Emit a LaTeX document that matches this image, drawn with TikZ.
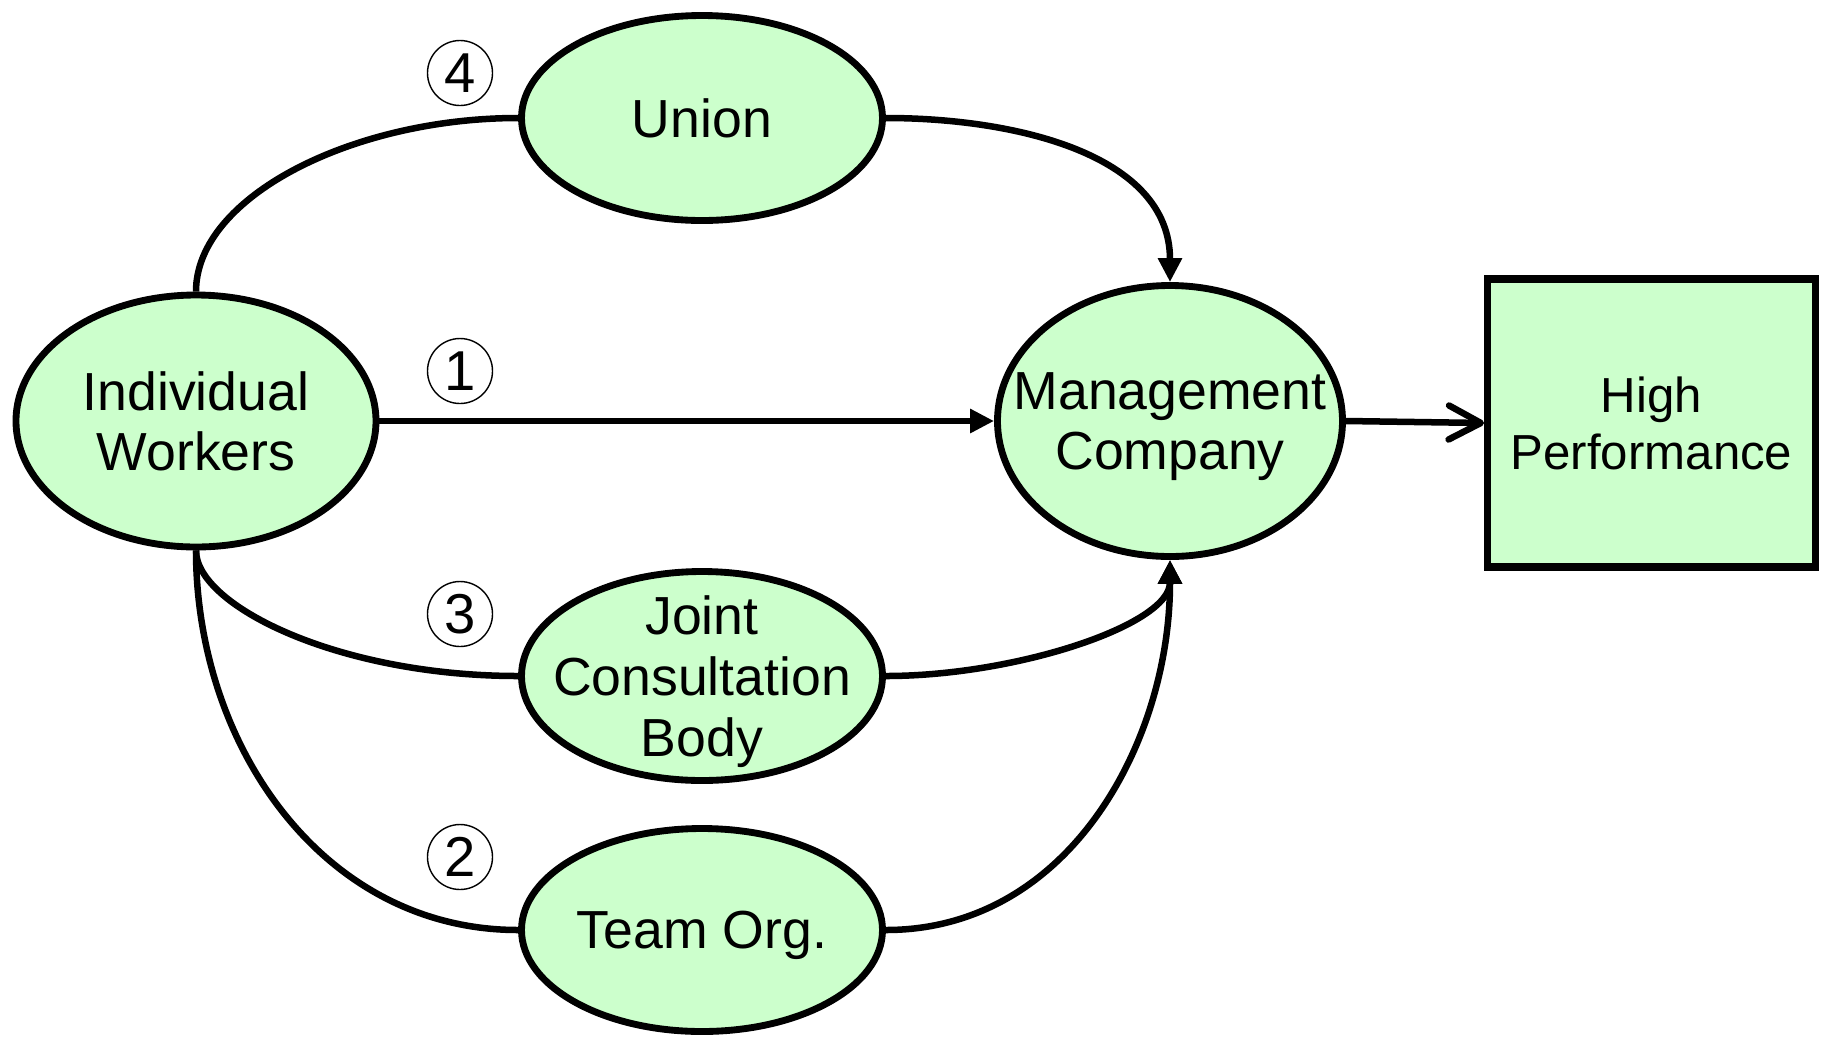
\documentclass[tikz,border=0pt]{standalone}
\usepackage{fontspec}
\setmainfont{Liberation Sans}
\usepackage{xcolor}
\usepackage{tikz}
\usetikzlibrary{arrows.meta,shapes,positioning}
\definecolor{palegreen}{RGB}{204,255,204}

\begin{document}
\begin{tikzpicture}[
    actor/.style={ellipse, draw=black, line width=3.9pt, fill=palegreen, inner sep=-1cm, text depth=-0.32cm, align=center, font=\fontsize{30.5}{34.6}\selectfont},
    result/.style={rectangle, draw=black, line width=4.2pt, fill=palegreen, inner sep=0pt, text depth=-0.3cm, align=center, font=\fontsize{28}{32.5}\selectfont},
    num/.style={circle, draw=black, line width=0.8pt, minimum size=1.3cm, inner sep=0pt, font=\fontsize{32}{32}\selectfont},
    link/.style={line width=3.7pt},
    flow/.style={line width=3.7pt, -{Stealth[length=4.8mm, width=4.6mm, inset=0pt]}}
]
    \useasboundingbox (0,0) rectangle (36.56,-20.8);

    \node[actor, minimum width=7.2cm, minimum height=5.04cm] (workers) at (3.92,-8.42) {Individual\\Workers};
    \node[actor, minimum width=7.22cm, minimum height=4.1cm] (union) at (14.04,-2.36) {Union};
    \node[actor, minimum width=6.9cm, minimum height=5.42cm] (mgmt) at (23.4,-8.42) {Management\\Company};
    \node[actor, minimum width=7.22cm, minimum height=4.18cm] (joint) at (14.04,-13.52) {Joint\\Consultation\\Body};
    \node[actor, minimum width=7.22cm, minimum height=4.06cm] (team) at (14.04,-18.6) {Team Org.};
    \node[result, minimum width=6.55cm, minimum height=5.76cm] (perf) at (33.03,-8.46) {High\\Performance};

    \node[num] (n4) at (9.2,-1.46) {4};
    \node[num] (n1) at (9.2,-7.42) {1};
    \node[num] (n3) at (9.2,-12.28) {3};
    \node[num] (n2) at (9.2,-17.14) {2};

    \draw[flow] (workers) -- (mgmt);
    \draw[link] (workers.north) .. controls +(0,1.9) and +(-3.3,0) .. (union.west);
    \draw[flow] (union.east) to[out=0, in=90] (mgmt.north);
    \draw[link] (workers.south) .. controls +(0,-1.1) and +(-3.6,0) .. (joint.west);
    \draw[flow] (joint.east) .. controls +(2.6,0) and +(0,-1.3) .. (mgmt.south);
    \draw[link] (workers.south) to[out=-90, in=180] (team.west);
    \draw[flow] (team.east) to[out=0, in=-90] (mgmt.south);
    \draw[line width=3.7pt, -{Straight Barb[length=6.4mm, width=6.8mm, round]}] (mgmt.east) -- (perf.west);
\end{tikzpicture}
\end{document}
